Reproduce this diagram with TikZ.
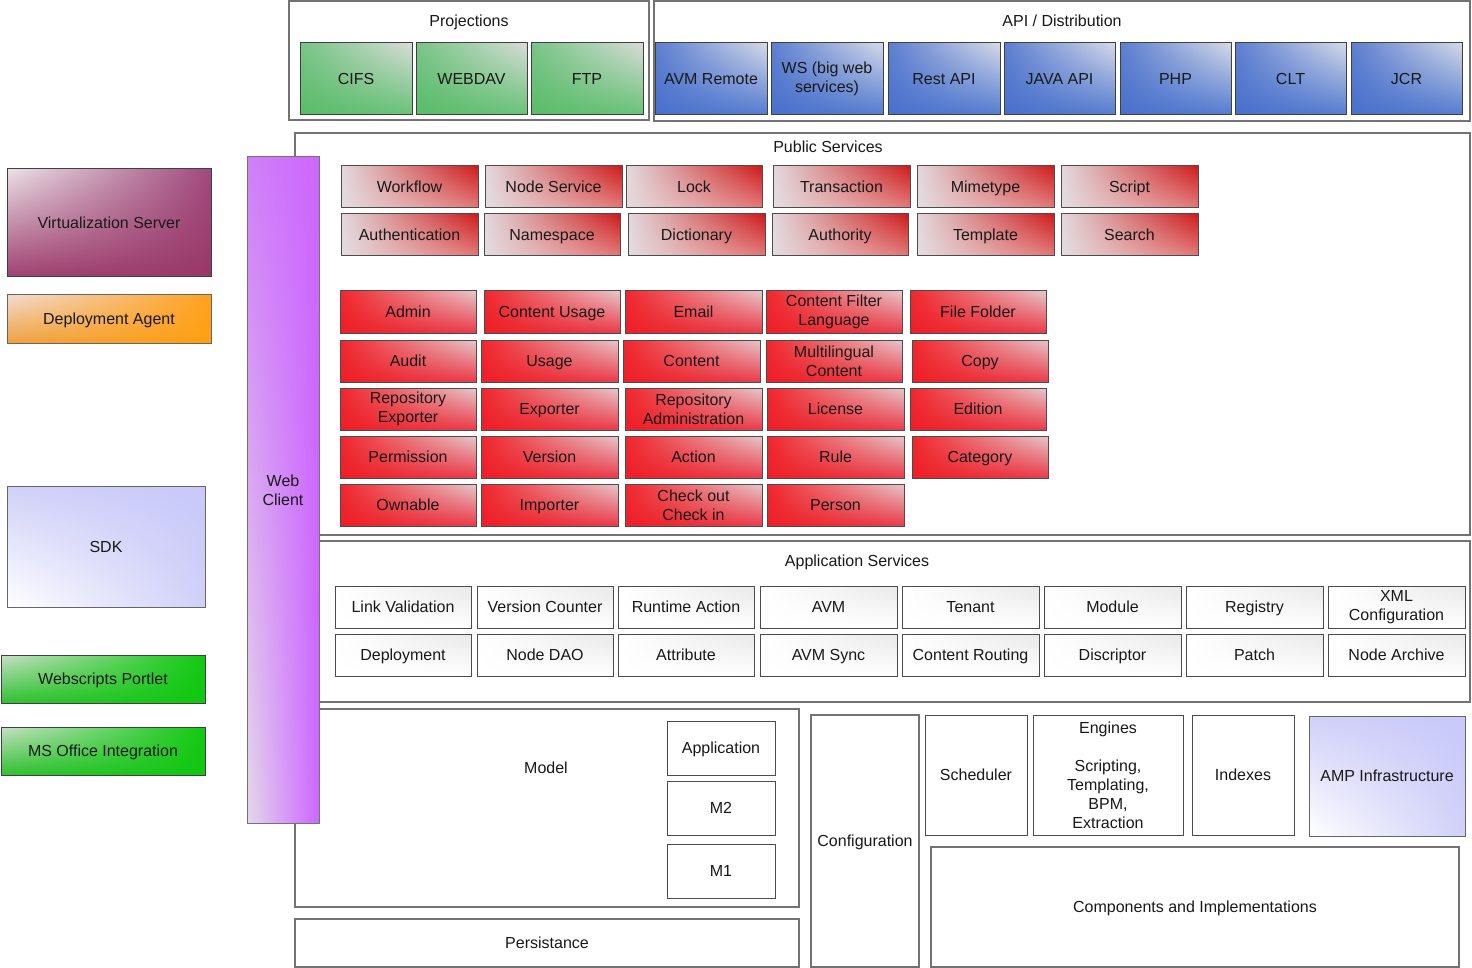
\documentclass[tikz,border=0pt]{standalone}
\usepackage{fontspec}
\setmainfont{Liberation Sans}
\usetikzlibrary{shadings}
\definecolor{gUL}{RGB}{120,196,134}\definecolor{gLL}{RGB}{88,188,104}\definecolor{gUR}{RGB}{216,220,216}\definecolor{gLR}{RGB}{104,194,120}
\definecolor{bUL}{RGB}{92,126,208}\definecolor{bLL}{RGB}{72,112,204}\definecolor{bUR}{RGB}{214,218,232}\definecolor{bLR}{RGB}{84,124,208}
\definecolor{pUL}{RGB}{226,218,222}\definecolor{pLL}{RGB}{228,220,224}\definecolor{pUR}{RGB}{206,26,26}\definecolor{pLR}{RGB}{228,122,122}
\definecolor{cUL}{RGB}{240,38,44}\definecolor{cLL}{RGB}{238,30,38}\definecolor{cUR}{RGB}{230,200,204}\definecolor{cLR}{RGB}{234,58,72}
\definecolor{aUR}{RGB}{232,232,232}
\definecolor{vUL}{RGB}{234,226,230}\definecolor{vUR}{RGB}{160,72,124}\definecolor{vLL}{RGB}{160,64,112}\definecolor{vLR}{RGB}{152,56,104}
\definecolor{dUL}{RGB}{240,220,208}\definecolor{dUR}{RGB}{255,160,32}\definecolor{dLL}{RGB}{240,160,64}\definecolor{dLR}{RGB}{255,160,16}
\definecolor{lUL}{RGB}{208,208,248}\definecolor{lUR}{RGB}{200,200,250}\definecolor{lLR}{RGB}{208,208,248}
\definecolor{wUL}{RGB}{200,224,200}\definecolor{wUR}{RGB}{16,200,16}\definecolor{wLL}{RGB}{48,192,48}\definecolor{wLR}{RGB}{16,200,16}
\definecolor{eUL}{RGB}{208,128,248}\definecolor{eUR}{RGB}{204,102,255}\definecolor{eLL}{RGB}{228,216,234}\definecolor{eLR}{RGB}{204,102,255}
\begin{document}
\begin{tikzpicture}[x=1pt,y=-1pt,
  base/.style={inner sep=0pt,outer sep=0pt,align=center,text=black!90,font=\fontsize{16}{19}\selectfont,text height=11.5pt,text depth=0pt},
  ml/.style={text height=,text depth=},
  cont/.style={base,draw=black!55,line width=1.4pt,fill=white},
  plain/.style={base,draw=black!70,line width=1pt,fill=white},
  title/.style={base},
  grn/.style={base,draw=black!75,line width=1pt,shade,upper left=gUL,lower left=gLL,upper right=gUR,lower right=gLR},
  blu/.style={base,draw=black!75,line width=1pt,shade,upper left=bUL,lower left=bLL,upper right=bUR,lower right=bLR},
  pubred/.style={base,draw=black!70,line width=1pt,shade,upper left=pUL,lower left=pLL,upper right=pUR,lower right=pLR},
  corered/.style={base,draw=black!70,line width=1pt,shade,upper left=cUL,lower left=cLL,upper right=cUR,lower right=cLR},
  appsvc/.style={base,draw=black!70,line width=1pt,shade,upper left=white,lower left=white,upper right=aUR,lower right=white},
  virt/.style={base,draw=black!75,line width=1pt,shade,upper left=vUL,upper right=vUR,lower left=vLL,lower right=vLR},
  depl/.style={base,draw=black!60,line width=1pt,shade,upper left=dUL,upper right=dUR,lower left=dLL,lower right=dLR},
  lblue/.style={base,draw=black!60,line width=1pt,shade,upper left=lUL,upper right=lUR,lower left=white,lower right=lLR},
  wgrn/.style={base,draw=black!75,line width=1pt,shade,upper left=wUL,upper right=wUR,lower left=wLL,lower right=wLR},
  webc/.style={base,draw=black!55,line width=1pt,shade,upper left=eUL,upper right=eUR,lower left=eLL,lower right=eLR}
]
\newcommand\bx[8][]{\node[#2,#1,minimum width={#6-#4},minimum height={#7-#5}] (#3) at ({(#4+#6)/2},{(#5+#7)/2}) {#8};}
\useasboundingbox (0,0) rectangle (1472,968);
% containers
\bx{cont}{proj}{289}{1}{649}{120}{}
\bx{cont}{api}{654}{1}{1470}{121}{}
\bx{cont}{pub}{295}{133}{1470}{535}{}
\bx{cont}{app}{319}{541}{1470}{702}{}
\bx{cont}{model}{295}{709}{799}{907}{}
\bx{cont}{pers}{295}{919}{799}{967}{Persistance}
\bx{cont}{config}{811}{715}{919}{967}{Configuration}
\bx{cont}{comp}{931}{847}{1459}{967}{Components and Implementations}
% titles
\node[title] (projT) at (469,21) {Projections};
\node[title] (apiT) at (1062,21) {API / Distribution};
\node[title] (pubT) at (828,147) {Public Services};
\node[title] (appT) at (857,561) {Application Services};
\node[title] (modelT) at (546,768) {Model};
% projections
\bx{grn}{cifs}{300}{43}{412}{115}{CIFS}
\bx{grn}{webdav}{416}{43}{527}{115}{WEBDAV}
\bx{grn}{ftp}{531}{43}{643}{115}{FTP}
% API
\bx{blu}{avmr}{655}{43}{767}{115}{AVM Remote}
\bx[ml]{blu}{ws}{771}{43}{883}{115}{WS (big web\\services)}
\bx{blu}{rest}{888}{43}{1000}{115}{Rest API}
\bx{blu}{java}{1004}{43}{1115}{115}{JAVA API}
\bx{blu}{php}{1120}{43}{1231}{115}{PHP}
\bx{blu}{clt}{1235}{43}{1346}{115}{CLT}
\bx{blu}{jcr}{1351}{43}{1462}{115}{JCR}
% left column
\bx{virt}{virt}{7}{169}{211}{277}{Virtualization Server}
\bx{depl}{depl}{7}{295}{211}{343}{Deployment Agent}
\bx{lblue}{sdk}{7}{486}{205}{607}{SDK}
\bx{wgrn}{wsp}{1}{655}{205}{703}{Webscripts Portlet}
\bx{wgrn}{mso}{1}{727}{205}{775}{MS Office Integration}
% web client
\bx[ml]{webc}{webclient}{247}{157}{319}{823}{Web\\Client}
% public services rows
\bx{pubred}{workflow}{341}{166}{478}{208}{Workflow}
\bx{pubred}{nodesvc}{485}{166}{622}{208}{Node Service}
\bx{pubred}{lock}{626}{166}{762}{208}{Lock}
\bx{pubred}{trans}{773}{166}{910}{208}{Transaction}
\bx{pubred}{mime}{917}{166}{1054}{208}{Mimetype}
\bx{pubred}{script}{1061}{166}{1198}{208}{Script}
\bx{pubred}{authn}{341}{214}{478}{256}{Authentication}
\bx{pubred}{namesp}{484}{214}{620}{256}{Namespace}
\bx{pubred}{dict}{628}{214}{765}{256}{Dictionary}
\bx{pubred}{authz}{772}{214}{908}{256}{Authority}
\bx{pubred}{templ}{917}{214}{1054}{256}{Template}
\bx{pubred}{search}{1061}{214}{1198}{256}{Search}
% core services
\bx{corered}{admin}{340}{291}{476}{333}{Admin}
\bx{corered}{cusage}{484}{291}{620}{333}{Content Usage}
\bx{corered}{email}{625}{291}{762}{333}{Email}
\bx[ml]{corered}{cfl}{766}{291}{902}{333}{Content Filter\\Language}
\bx{corered}{ffolder}{910}{291}{1046}{333}{File Folder}
\bx{corered}{audit}{340}{340}{476}{382}{Audit}
\bx{corered}{usage}{481}{340}{618}{382}{Usage}
\bx{corered}{content}{623}{340}{760}{382}{Content}
\bx[ml]{corered}{mlc}{766}{340}{902}{382}{Multilingual\\Content}
\bx{corered}{copy}{912}{340}{1048}{382}{Copy}
\bx[ml]{corered}{repexp}{340}{388}{476}{430}{Repository\\Exporter}
\bx{corered}{exporter}{481}{388}{618}{430}{Exporter}
\bx[ml]{corered}{repadm}{625}{388}{762}{430}{Repository\\Administration}
\bx{corered}{license}{767}{388}{904}{430}{License}
\bx{corered}{edition}{910}{388}{1046}{430}{Edition}
\bx{corered}{perm}{340}{436}{476}{478}{Permission}
\bx{corered}{version}{481}{436}{618}{478}{Version}
\bx{corered}{action}{625}{436}{762}{478}{Action}
\bx{corered}{rule}{767}{436}{904}{478}{Rule}
\bx{corered}{category}{912}{436}{1048}{478}{Category}
\bx{corered}{ownable}{340}{484}{476}{526}{Ownable}
\bx{corered}{importer}{481}{484}{618}{526}{Importer}
\bx[ml]{corered}{checkout}{625}{484}{762}{526}{Check out\\Check in}
\bx{corered}{person}{767}{484}{904}{526}{Person}
% application services
\bx{appsvc}{linkval}{335}{586}{471}{628}{Link Validation}
\bx{appsvc}{vcount}{477}{586}{613}{628}{Version Counter}
\bx{appsvc}{ract}{618}{586}{754}{628}{Runtime Action}
\bx{appsvc}{avm}{760}{586}{897}{628}{AVM}
\bx{appsvc}{tenant}{902}{586}{1039}{628}{Tenant}
\bx{appsvc}{module}{1044}{586}{1181}{628}{Module}
\bx{appsvc}{registry}{1186}{586}{1323}{628}{Registry}
\bx[ml]{appsvc}{xmlconf}{1328}{586}{1465}{628}{XML\\Configuration}
\bx{appsvc}{deploy}{335}{634}{471}{676}{Deployment}
\bx{appsvc}{nodedao}{477}{634}{613}{676}{Node DAO}
\bx{appsvc}{attr}{618}{634}{754}{676}{Attribute}
\bx{appsvc}{avmsync}{760}{634}{897}{676}{AVM Sync}
\bx{appsvc}{crout}{902}{634}{1039}{676}{Content Routing}
\bx{appsvc}{discr}{1044}{634}{1181}{676}{Discriptor}
\bx{appsvc}{patch}{1186}{634}{1323}{676}{Patch}
\bx{appsvc}{narch}{1328}{634}{1465}{676}{Node Archive}
% model
\bx{plain}{mapp}{667}{721}{775}{775}{Application}
\bx{plain}{m2}{667}{781}{775}{835}{M2}
\bx{plain}{m1}{667}{844}{775}{898}{M1}
% infrastructure
\bx{plain}{sched}{925}{715}{1027}{835}{Scheduler}
\bx[ml]{plain}{engines}{1033}{715}{1183}{835}{Engines\\[19pt]Scripting,\\Templating,\\BPM,\\Extraction}
\bx{plain}{indexes}{1192}{715}{1294}{835}{Indexes}
\bx{lblue}{amp}{1309}{716}{1465}{836}{AMP Infrastructure}
\end{tikzpicture}
\end{document}
